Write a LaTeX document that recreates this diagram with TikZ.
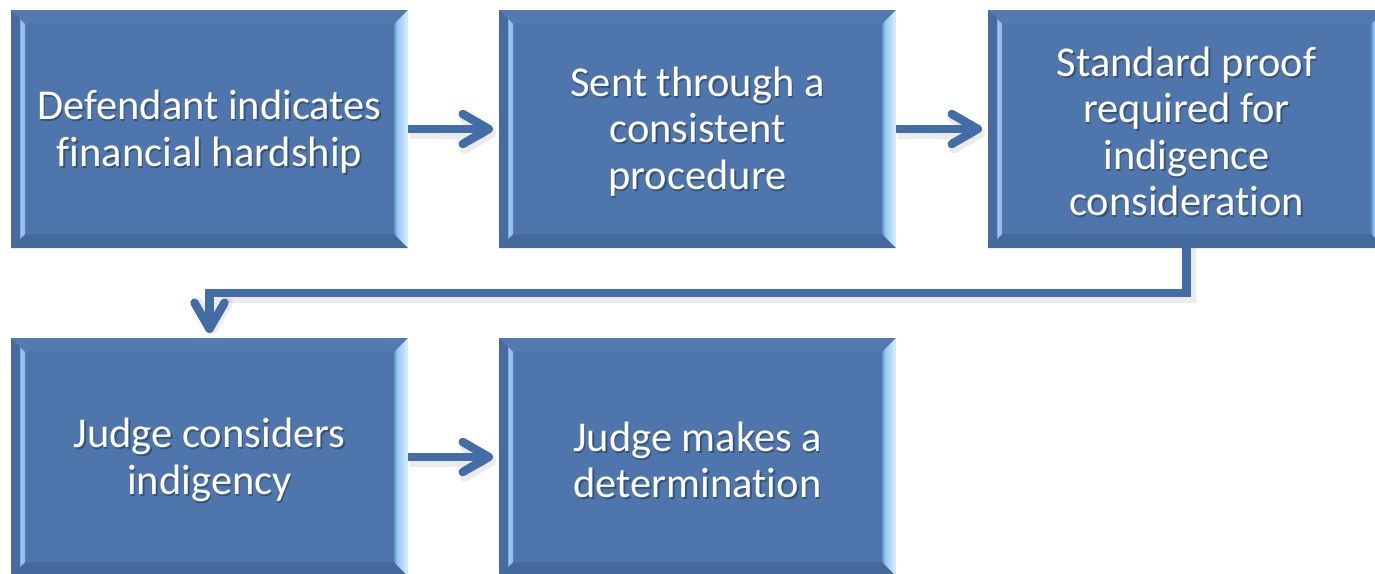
\documentclass[tikz,border=0pt]{standalone}
\usepackage{fontspec}
\setmainfont{Carlito}[Ligatures={NoCommon,NoRare,NoContextual}]
\usetikzlibrary{arrows.meta,calc}
\definecolor{boxfill}{RGB}{79,118,172}
\definecolor{bevtop}{RGB}{84,123,177}
\definecolor{bevbot}{RGB}{70,105,156}
\definecolor{bevdark}{RGB}{72,106,158}
\definecolor{bevlight}{RGB}{148,195,240}
\definecolor{bevrin}{RGB}{98,145,205}
\definecolor{bevrmid}{RGB}{150,198,242}
\definecolor{bevrout}{RGB}{208,234,252}
\definecolor{bevredge}{RGB}{140,180,225}
\definecolor{arrowblue}{RGB}{66,109,167}
\pgfdeclarehorizontalshading{bevleftsh}{100bp}{color(0bp)=(bevdark); color(25bp)=(bevdark); color(54bp)=(bevdark); color(58bp)=(bevlight); color(75bp)=(bevlight); color(100bp)=(bevlight)}
\pgfdeclarehorizontalshading{bevrightsh}{100bp}{color(0bp)=(bevrin); color(25bp)=(bevrin); color(36bp)=(bevrmid); color(68bp)=(bevrout); color(72bp)=(bevrout); color(75bp)=(bevredge); color(100bp)=(bevredge)}
\tikzset{
  flowbox/.style={rectangle, fill=boxfill, draw=none, minimum width=397pt, minimum height=238pt, inner sep=0pt, outer sep=0pt},
  boxtext/.style={text=white, align=center, font=\fontsize{42.5}{46.5}\selectfont, inner sep=0pt},
  shadowtext/.style={boxtext, text=black, text opacity=0.3},
  flowarrow/.style={draw=arrowblue, line width=8.5pt, line cap=butt,
    -{Straight Barb[length=26pt,width=30pt,round]}},
  arrowshadow/.style={draw=black, opacity=0.08, line width=11pt, line cap=butt,
    -{Straight Barb[length=26pt,width=30pt,round]}}
}
\newcommand{\bevelbox}[1]{%
  \fill[bevtop] (#1.north west) -- ($(#1.north west)+(14,14)$) -- ($(#1.north east)+(-14,14)$) -- (#1.north east) -- cycle;
  \fill[bevbot] (#1.south west) -- ($(#1.south west)+(14,-14)$) -- ($(#1.south east)+(-14,-14)$) -- (#1.south east) -- cycle;
  \shade[shading=bevleftsh] (#1.north west) -- ($(#1.north west)+(14,14)$) -- ($(#1.south west)+(14,-14)$) -- (#1.south west) -- cycle;
  \shade[shading=bevrightsh] ($(#1.north east)+(-14,14)$) -- (#1.north east) -- (#1.south east) -- ($(#1.south east)+(-14,-14)$) -- cycle;
}
\begin{document}
\begin{tikzpicture}[x=1pt,y=-1pt]
\useasboundingbox (0,0) rectangle (1375,573);
% boxes
\node[flowbox] (b1) at (209.5,129) {};
\node[flowbox] (b2) at (697.5,129) {};
\node[flowbox] (b3) at (1186.5,129) {};
\node[flowbox] (b4) at (209.5,457) {};
\node[flowbox] (b5) at (697.5,457) {};
\bevelbox{b1}\bevelbox{b2}\bevelbox{b3}\bevelbox{b4}\bevelbox{b5}
% text shadows
\node[shadowtext] (s1) at ($(b1.center)+(1.5,4.5)$) {Defendant indicates\\financial hardship};
\node[shadowtext] (s2) at ($(b2.center)+(1.5,4.5)$) {Sent through a\\consistent\\procedure};
\node[shadowtext] (s3) at ($(b3.center)+(1.5,4.5)$) {Standard proof\\required for\\indigence\\consideration};
\node[shadowtext] (s4) at ($(b4.center)+(1.5,5)$) {Judge considers\\indigency};
\node[shadowtext] (s5) at ($(b5.center)+(1.5,5)$) {Judge makes a\\determination};
% texts
\node[boxtext] (t1) at ($(b1.center)+(0,2.5)$) {Defendant indicates\\financial hardship};
\node[boxtext] (t2) at ($(b2.center)+(0,2.5)$) {Sent through a\\consistent\\procedure};
\node[boxtext] (t3) at ($(b3.center)+(0,2.5)$) {Standard proof\\required for\\indigence\\consideration};
\node[boxtext] (t4) at ($(b4.center)+(0,3)$) {Judge considers\\indigency};
\node[boxtext] (t5) at ($(b5.center)+(0,3)$) {Judge makes a\\determination};
% connector shadows
\draw[arrowshadow, shorten >=5pt] ($(b1.east)+(2,4)$) -- ($(b2.west)+(2,4)$);
\draw[arrowshadow, shorten >=5pt] ($(b2.east)+(2,4)$) -- ($(b3.west)+(2,4)$);
\draw[arrowshadow, shorten >=5pt] ($(b4.east)+(2,4)$) -- ($(b5.west)+(2,4)$);
\draw[arrowshadow, shorten >=4pt] ($(b3.south)+(4,0)$) -- ++(0,49) -| ($(b4.north)+(3,0)$);
% connectors
\draw[flowarrow, shorten >=6pt] (b1.east) -- (b2.west);
\draw[flowarrow, shorten >=6pt] (b2.east) -- (b3.west);
\draw[flowarrow, shorten >=6pt] (b4.east) -- (b5.west);
\draw[flowarrow, shorten >=5pt] (b3.south) -- ++(0,45) -| (b4.north);
\end{tikzpicture}
\end{document}
